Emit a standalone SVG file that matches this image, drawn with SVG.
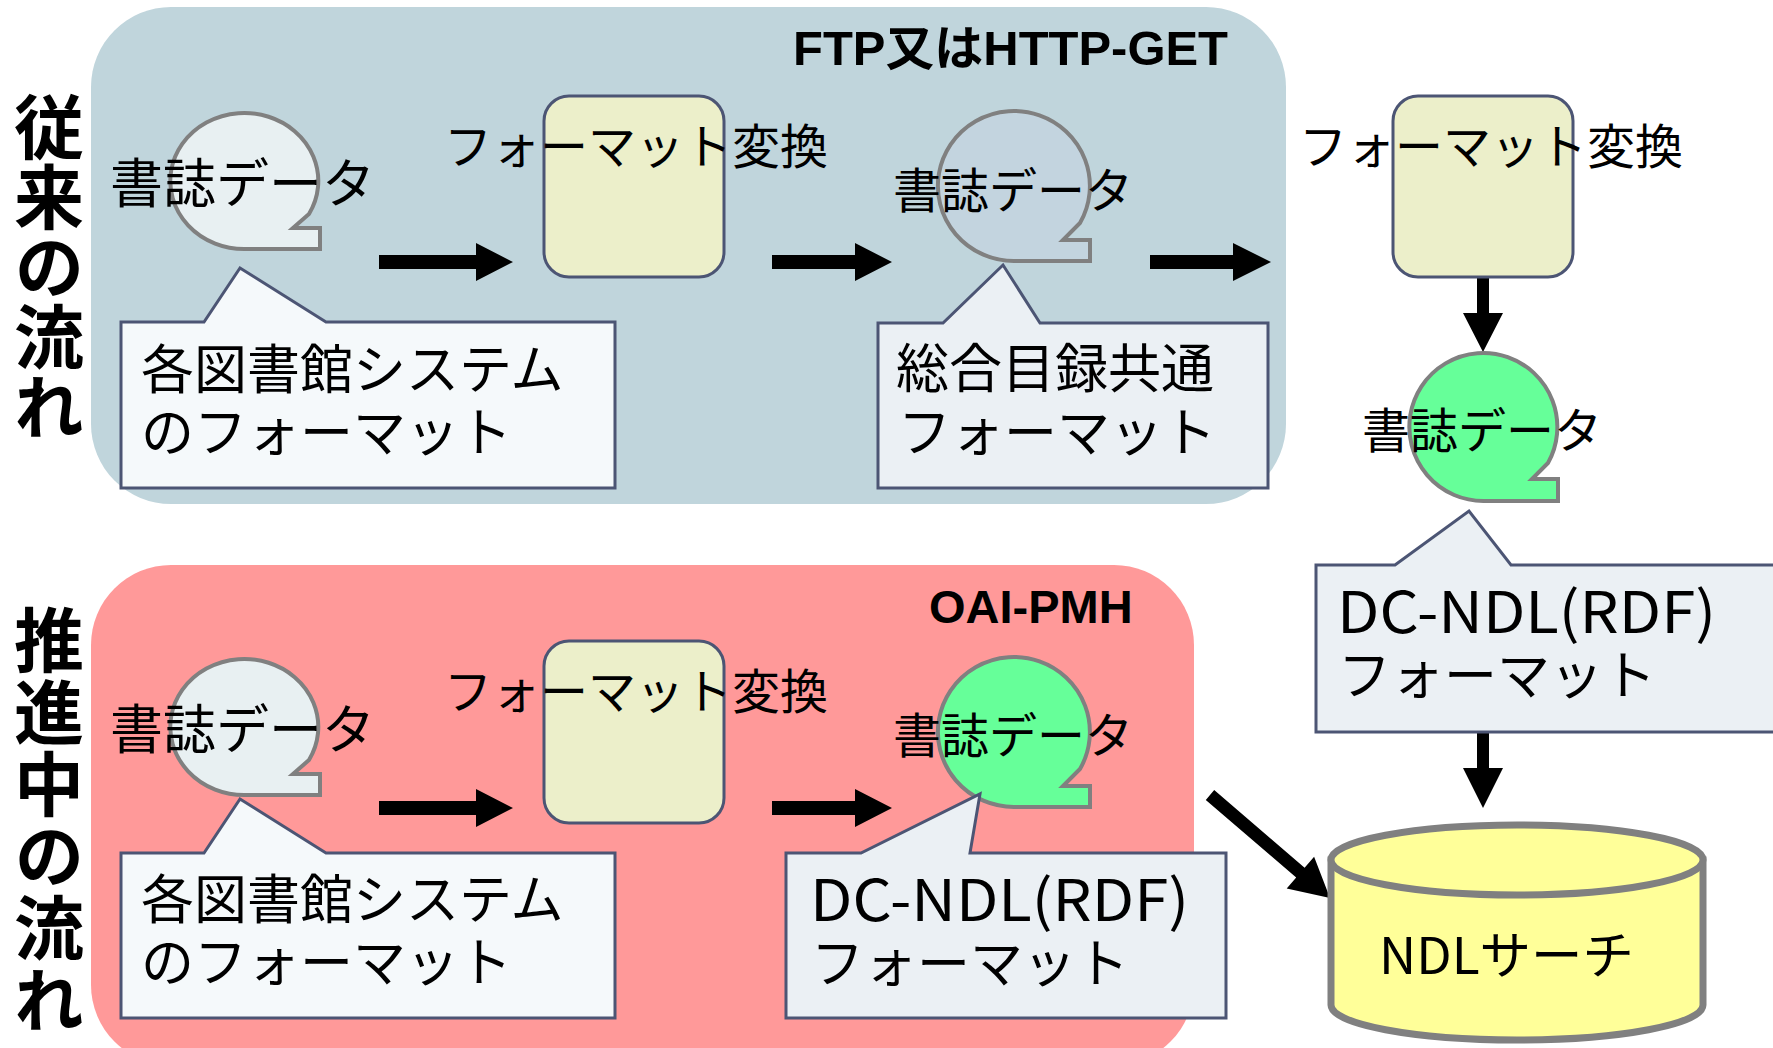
<svg xmlns="http://www.w3.org/2000/svg" width="1773" height="1048" viewBox="0 0 1773 1048">
<style>
.t{font-family:"Noto Sans CJK JP","Noto Sans",sans-serif;fill:#000}
.vt{font-family:"Noto Sans CJK JP",sans-serif;font-weight:bold;font-size:70px;fill:#000;writing-mode:vertical-rl}
.ti{font-family:"Liberation Sans","Noto Sans CJK JP",sans-serif;font-weight:bold;fill:#000}
.bub{stroke:#808080;stroke-width:4;stroke-linejoin:miter}
.cal{stroke:#4c5574;stroke-width:3;stroke-linejoin:miter}
.fmt{fill:#ecefca;stroke:#4c5574;stroke-width:3}
.arr{fill:#000}
</style>
<rect width="1773" height="1048" fill="#ffffff"/>
<g id="panel-top">
<rect x="91" y="7" width="1195" height="497" rx="80" ry="80" fill="#c0d5dc"/>
<text class="ti" x="793" y="65" font-size="48" textLength="435" lengthAdjust="spacingAndGlyphs">FTP又はHTTP-GET</text>
</g>
<g id="panel-bottom">
<rect x="91" y="565" width="1103" height="500" rx="80" ry="80" fill="#ff9999"/>
<text class="ti" x="929" y="623" font-size="47">OAI-PMH</text>
</g>
<g id="label-top">
<text class="vt" x="49" y="92">従来の流れ</text>
</g>
<g id="label-bottom">
<text class="vt" x="49" y="605" letter-spacing="2">推進中の流れ</text>
</g>
<g id="connectors">
<polygon class="arr" points="379,255 476,255 476,243 513,262 476,281 476,269 379,269"/>
<polygon class="arr" points="772,255 855,255 855,243 892,262 855,281 855,269 772,269"/>
<polygon class="arr" points="1150,255 1233,255 1233,243 1271,262 1233,281 1233,269 1150,269"/>
<polygon class="arr" points="379,801 476,801 476,789 513,808 476,827 476,815 379,815"/>
<polygon class="arr" points="772,801 855,801 855,789 892,808 855,827 855,815 772,815"/>
<polygon class="arr" points="1477,277 1489,277 1489,313 1503,313 1483,352 1463,313 1477,313"/>
<polygon class="arr" points="1477,732 1489,732 1489,768 1503,768 1483,808 1463,768 1477,768"/>
<polygon class="arr" points="1214.2,790.1 1304.6,867.7 1314.1,856.7 1330,898 1286.7,888.5 1296.2,877.5 1205.8,799.9"/>
</g>
<g id="callout-library-top">
<path class="cal" fill="#f5f9fb" d="M121 322 L204 322 L240 268 L326 322 L615 322 L615 488 L121 488 Z"/>
<text class="t" x="141" y="389" font-size="53">各図書館システム</text>
<text class="t" x="141" y="452" font-size="53">のフォーマット</text>
</g>
<g id="bubble-top-1">
<path class="bub" fill="#e8f0f2" d="M245 249 A74 68 0 1 1 309 214 L293 228 L320 228 L320 249 Z"/>
<text class="t" x="110" y="203" font-size="53">書誌データ</text>
</g>
<g id="convert-top-1">
<rect class="fmt" x="544" y="96" width="180" height="181" rx="25"/>
<text class="t" x="444" y="164" font-size="48">フォーマット変換</text>
</g>
<g id="callout-union-top">
<path class="cal" fill="#ebf0f4" d="M878 323 L943 323 L1003 265 L1040 323 L1268 323 L1268 488 L878 488 Z"/>
<text class="t" x="896" y="388" font-size="53">総合目録共通</text>
<text class="t" x="898" y="452" font-size="53">フォーマット</text>
</g>
<g id="bubble-top-2">
<path class="bub" fill="#c3d4df" d="M1014 261 A76 75 0 1 1 1080 223 L1063 240 L1090 240 L1090 261 Z"/>
<text class="t" x="893" y="208" font-size="48">書誌データ</text>
</g>
<g id="convert-right">
<rect class="fmt" x="1393" y="96" width="180" height="181" rx="25"/>
<text class="t" x="1299" y="164" font-size="48">フォーマット変換</text>
</g>
<g id="callout-dcndl-right">
<path class="cal" fill="#ebf0f4" d="M1316 565 L1395 565 L1469 511 L1511 565 L1790 565 L1790 732 L1316 732 Z"/>
<text class="t" x="1337" y="633" font-size="57" textLength="379" lengthAdjust="spacingAndGlyphs">DC-NDL(RDF)</text>
<text class="t" x="1338" y="695" font-size="53">フォーマット</text>
</g>
<g id="bubble-right">
<path class="bub" fill="#66ff99" d="M1484 501 A74 74 0 1 1 1548 463 L1532 479 L1558 479 L1558 501 Z"/>
<text class="t" x="1362" y="448" font-size="48">書誌データ</text>
</g>
<g id="callout-library-bottom">
<path class="cal" fill="#f5f9fb" d="M121 853 L204 853 L240 799 L326 853 L615 853 L615 1018 L121 1018 Z"/>
<text class="t" x="141" y="919" font-size="53">各図書館システム</text>
<text class="t" x="141" y="982" font-size="53">のフォーマット</text>
</g>
<g id="bubble-bottom-1">
<path class="bub" fill="#e8f0f2" d="M245 795 A74 68 0 1 1 309 760 L293 774 L320 774 L320 795 Z"/>
<text class="t" x="110" y="749" font-size="53">書誌データ</text>
</g>
<g id="convert-bottom">
<rect class="fmt" x="544" y="641" width="180" height="182" rx="25"/>
<text class="t" x="444" y="709" font-size="48">フォーマット変換</text>
</g>
<g id="bubble-bottom-2">
<path class="bub" fill="#66ff99" d="M1014 807 A76 75 0 1 1 1080 769 L1063 786 L1090 786 L1090 807 Z"/>
<text class="t" x="893" y="753" font-size="48">書誌データ</text>
</g>
<g id="callout-dcndl-bottom">
<path class="cal" fill="#ebf0f4" d="M786 853 L861 853 L980 794 L970 853 L1226 853 L1226 1018 L786 1018 Z"/>
<text class="t" x="810" y="921" font-size="57" textLength="379" lengthAdjust="spacingAndGlyphs">DC-NDL(RDF)</text>
<text class="t" x="811" y="983" font-size="53">フォーマット</text>
</g>
<g id="ndl-search">
<path d="M1331 860 L1331 1005 A186 35 0 0 0 1703 1005 L1703 860 Z" fill="#ffff99" stroke="#808080" stroke-width="7"/>
<ellipse cx="1517" cy="860" rx="186" ry="35" fill="#ffff99" stroke="#808080" stroke-width="7"/>
<text class="t" x="1379" y="974" font-size="51" textLength="255" lengthAdjust="spacingAndGlyphs">NDLサーチ</text>
</g>
</svg>
